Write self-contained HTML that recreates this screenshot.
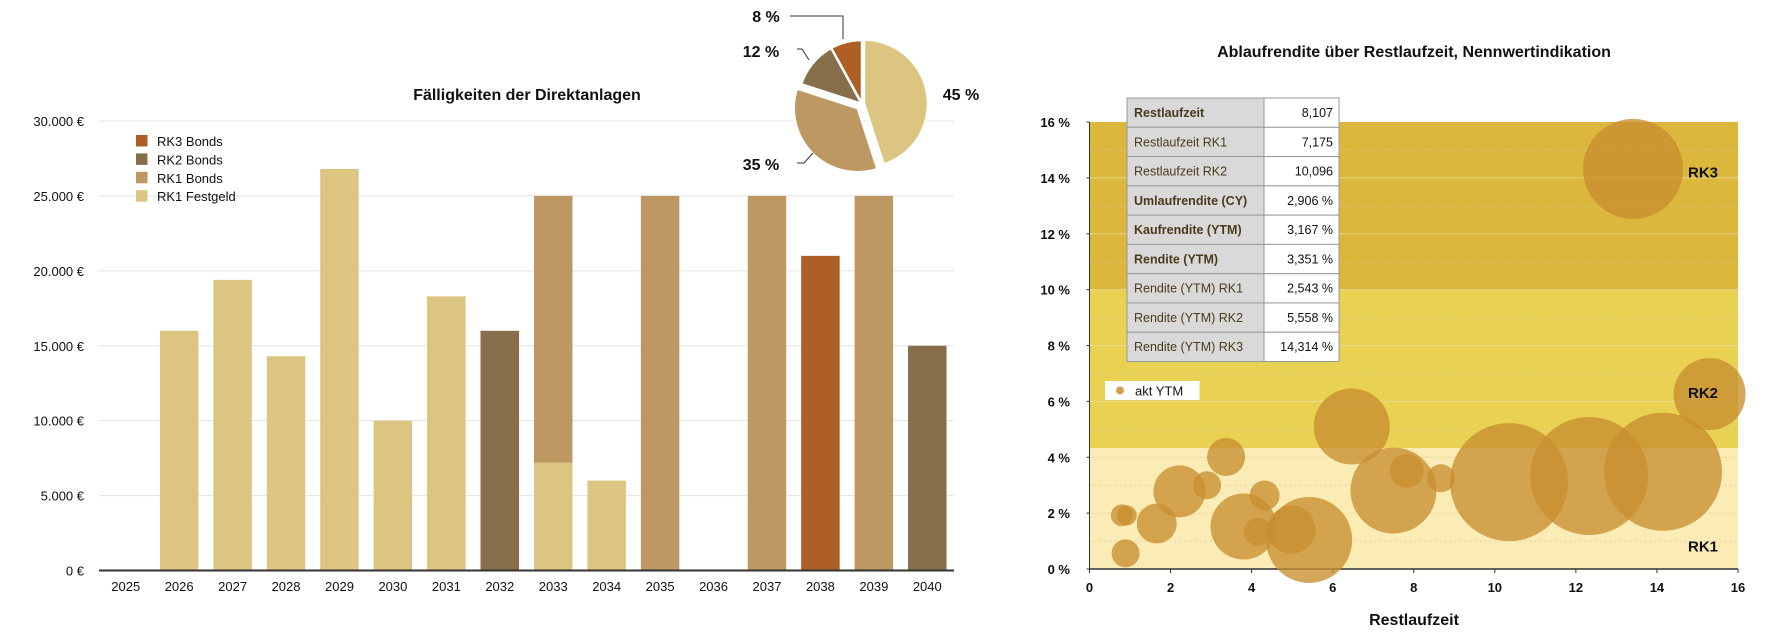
<!DOCTYPE html>
<html><head><meta charset="utf-8"><style>
body{margin:0;background:#fff;}
svg{display:block;font-family:"Liberation Sans",sans-serif;}
</style></head><body>
<svg id="c" width="1784" height="644" viewBox="0 0 1784 644"></svg>
<script>
const years=["2025","2026","2027","2028","2029","2030","2031","2032","2033","2034","2035","2036","2037","2038","2039","2040"];
const festgeld=[0,16000,19400,14300,26800,10000,18300,0,7200,6000,0,0,0,0,0,0];
const rk1Bonds=[0,0,0,0,0,0,0,0,17800,0,25000,0,25000,0,25000,0];
const rk2Bonds=[0,0,0,0,0,0,0,16000,0,0,0,0,0,0,0,15000];
const rk3Bonds=[0,0,0,0,0,0,0,0,0,0,0,0,0,21000,0,0];
const yTicks=[0,5000,10000,15000,20000,25000,30000];
const yTickLabels=["0 €","5.000 €","10.000 €","15.000 €","20.000 €","25.000 €","30.000 €"];
const pieLabels=["RK1 Festgeld","RK1 Bonds","RK2 Bonds","RK3 Bonds"];
const pieValues=[45,35,12,8];
const bubbleX=[13.41,15.30,6.47,10.35,12.33,14.15,7.50,7.83,8.67,5.42,4.98,3.80,4.15,4.32,3.37,2.90,2.22,1.66,0.80,0.92,0.89];
const bubbleY=[14.32,6.26,5.10,3.11,3.33,3.48,2.81,3.52,3.25,1.04,1.41,1.52,1.33,2.63,4.01,3.00,2.78,1.63,1.92,1.92,0.56];
const bubbleSize=[50,36,38,59,59,59,43,17,14,43,24,33,14,15,19,14,26,20,11,10,14];
const tableLabels=["Restlaufzeit","Restlaufzeit RK1","Restlaufzeit RK2","Umlaufrendite (CY)","Kaufrendite (YTM)","Rendite (YTM)","Rendite (YTM) RK1","Rendite (YTM) RK2","Rendite (YTM) RK3"];
const tableValues=["8,107","7,175","10,096","2,906 %","3,167 %","3,351 %","2,543 %","5,558 %","14,314 %"];
const tableBold=[1,0,0,1,1,1,0,0,0];

const NS="http://www.w3.org/2000/svg";
const svg=document.getElementById('c');
function el(t,a,p){const e=document.createElementNS(NS,t);for(const k in a)e.setAttribute(k,a[k]);(p||svg).appendChild(e);return e;}
function txt(s,a,p){const e=el('text',a,p);e.textContent=s;return e;}

// ---- Bar chart ----
const L=99,R=954,Y0=570.5,Ytop=121;
const ys=v=>Y0-(v/30000)*(Y0-Ytop);
const slot=(R-L)/years.length, bw=38.5;
const bar=el('g',{});


yTicks.forEach((v,i)=>{
  if(i>0){const g=el('line',{x1:L,x2:R,y1:ys(v),y2:ys(v),stroke:'#e3e3e3','stroke-width':1},bar);
  }
  const t=txt(yTickLabels[i],{x:84,y:ys(v)+5,'text-anchor':'end','font-size':13,fill:'#111'},bar);
  
});
const series=[[festgeld,'#dcc581','festgeld'],[rk1Bonds,'#bd9862','rk1-bonds'],[rk2Bonds,'#876f4b','rk2-bonds'],[rk3Bonds,'#ad5f26','rk3-bonds']];
years.forEach((y,i)=>{
  const cx=L+slot*(i+0.5);let acc=0;
  series.forEach(s=>{const v=s[0][i];if(v>0){
    const r=el('rect',{x:cx-bw/2,y:ys(acc+v),width:bw,height:ys(acc)-ys(acc+v),fill:s[1]},bar);
    acc+=v;}});
  const t=txt(y,{x:cx,y:591,'text-anchor':'middle','font-size':13,fill:'#111'},bar);
  
});
const ax=el('line',{x1:L,x2:R,y1:Y0,y2:Y0,stroke:'#333','stroke-width':2},bar);

const bt=txt('Fälligkeiten der Direktanlagen',{x:527,y:100,'text-anchor':'middle','font-size':16,'font-weight':'bold',fill:'#111'},bar);

[['RK3 Bonds','#ad5f26'],['RK2 Bonds','#876f4b'],['RK1 Bonds','#bd9862'],['RK1 Festgeld','#dcc581']].forEach((l,i)=>{
  const g=el('g',{},bar);
  const yy=141+i*18.4;
  el('rect',{x:136,y:yy-6,width:11.5,height:11.5,fill:l[1]},g);
  txt(l[0],{x:157,y:yy+5,'font-size':13,fill:'#111'},g);
});

// ---- Pie ----
const pie=el('g',{});


const pcx=862,pcy=104,pr=64;
const pieCols=['#dcc581','#bd9862','#876f4b','#ad5f26'];
const tot=pieValues.reduce((a,b)=>a+b,0);
let a0=0;
pieValues.forEach((v,i)=>{
  const a1=a0+v/tot*2*Math.PI, am=(a0+a1)/2;
  const off=i===1?6:(i===0?2:0);
  const ox=Math.sin(am)*off, oy=-Math.cos(am)*off;
  const x0=pcx+ox+pr*Math.sin(a0),y0=pcy+oy-pr*Math.cos(a0),x1=pcx+ox+pr*Math.sin(a1),y1=pcy+oy-pr*Math.cos(a1);
  const p=el('path',{d:`M${pcx+ox},${pcy+oy}L${x0},${y0}A${pr},${pr} 0 ${a1-a0>Math.PI?1:0} 1 ${x1},${y1}Z`,fill:pieCols[i],stroke:'#fff','stroke-width':2.5},pie);
  
  a0=a1;
});
[[pieValues[3]+' %',766,22,'middle'],[pieValues[2]+' %',761,57,'middle'],[pieValues[1]+' %',761,170,'middle'],[pieValues[0]+' %',961,100,'middle']].forEach(l=>{
  const t=txt(l[0],{x:l[1],y:l[2],'text-anchor':l[3],'font-size':16,'font-weight':'bold',fill:'#111'},pie);
  
});
[['M790,16 L843,16 L843,39'],['M797,49 L802,49 L809,60'],['M797,163 L804,163 L813,153']].forEach(d=>{
  const p=el('path',{d:d[0],fill:'none',stroke:'#333','stroke-width':1},pie);
  
});

// ---- Bubble chart ----
const BL=1089.5,BR=1738,BY0=569,BYT=122;
const bx=v=>BL+v/16*(BR-BL), by=v=>BY0-v/16*(BY0-BYT);
const bub=el('g',{});


[[0,4.33,'#fbecb5','band-rk1'],[4.33,10,'#e9d152','band-rk2'],[10,16,'#dbb83c','band-rk3']].forEach(b=>{
  const r=el('rect',{x:BL,y:by(b[1]),width:BR-BL,height:by(b[0])-by(b[1]),fill:b[2]},bub);
  
});
for(let v=1;v<16;v++){
  const g=el('line',{x1:BL,x2:BR,y1:by(v),y2:by(v),stroke:v%2?'#d8c9a0':'#eadca0','stroke-width':1,'stroke-dasharray':v%2?'2,3':'none',opacity:0.8},bub);
  
}
for(let v=0;v<=16;v+=2){
  const t=txt(v+' %',{x:1070,y:by(v)+5,'text-anchor':'end','font-size':13,'font-weight':'bold',fill:'#111'},bub);
  
  el('line',{x1:BL-3,x2:BL,y1:by(v),y2:by(v),stroke:'#333'},bub);
  const t2=txt(String(v),{x:bx(v),y:592,'text-anchor':'middle','font-size':13,'font-weight':'bold',fill:'#111'},bub);
  
  el('line',{x1:bx(v),x2:bx(v),y1:BY0,y2:BY0+4,stroke:'#333'},bub);
}
el('line',{x1:BL,x2:BR,y1:BY0,y2:BY0,stroke:'#333','stroke-width':1.5},bub);
el('line',{x1:BL,x2:BL,y1:BYT,y2:BY0,stroke:'#333','stroke-width':1},bub);
bubbleX.forEach((x,i)=>{
  const c=el('circle',{cx:bx(x),cy:by(bubbleY[i]),r:bubbleSize[i],fill:'rgba(200,142,48,0.78)'},bub);
  
});
[['RK3',14.2],['RK2',6.3],['RK1',0.8]].forEach(l=>{
  const t=txt(l[0],{x:1703,y:by(l[1])+5,'text-anchor':'middle','font-size':15,'font-weight':'bold',fill:'#111'},bub);
  
});
const bt2=txt('Ablaufrendite über Restlaufzeit, Nennwertindikation',{x:1414,y:57,'text-anchor':'middle','font-size':16,'font-weight':'bold',fill:'#111'},bub);

const xt=txt('Restlaufzeit',{x:1414,y:625,'text-anchor':'middle','font-size':16,'font-weight':'bold',fill:'#111'},bub);

const lg=el('g',{},bub);
el('rect',{x:1105,y:381,width:94.5,height:19,fill:'#fff'},lg);
el('circle',{cx:1120,cy:390.5,r:4,fill:'#d7a050'},lg);
txt('akt YTM',{x:1135,y:395.5,'font-size':13,fill:'#111'},lg);
// table
const tb=el('g',{},bub);
const TX=1127,TM=1264,TR=1339,TY=98,RH=29.28;
tableLabels.forEach((l,i)=>{
  const y=TY+i*RH;
  el('rect',{x:TX,y:y,width:TM-TX,height:RH,fill:'#d9d9d9',stroke:'#999','stroke-width':1},tb);
  el('rect',{x:TM,y:y,width:TR-TM,height:RH,fill:'#fff',stroke:'#999','stroke-width':1},tb);
  const a=txt(l,{x:TX+7,y:y+19,'font-size':12.5,'font-weight':tableBold[i]?'bold':'normal',fill:'#4a3a1a'},tb);
  
  const b=txt(tableValues[i],{x:TR-6,y:y+19,'text-anchor':'end','font-size':12.5,fill:'#111'},tb);
  
});
</script>
</body></html>
